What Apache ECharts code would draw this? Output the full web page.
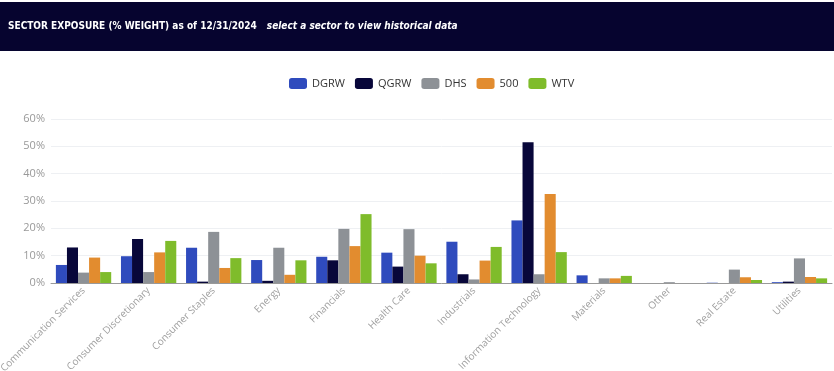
<!DOCTYPE html>
<html>
<head>
<meta charset="utf-8">
<script src="https://cdn.jsdelivr.net/npm/echarts@6/dist/echarts.min.js"></script>
<style>
  html, body { margin: 0; padding: 0; background: #fff; }
  #sectorChart { width: 834px; height: 371px; }
</style>
</head>
<body>
<div id="sectorChart"></div>
<script>
var sectors = ['Communication Services', 'Consumer Discretionary', 'Consumer Staples', 'Energy', 'Financials',
  'Health Care', 'Industrials', 'Information Technology', 'Materials', 'Other', 'Real Estate', 'Utilities'];
var fundNames = ['DGRW', 'QGRW', 'DHS', '500', 'WTV'];
var dgrw = [6.6, 9.8, 12.9, 8.4, 9.6, 11.1, 15.1, 22.9, 2.8, 0, 0.1, 0.3];
var qgrw = [13.0, 16.1, 0.5, 0.8, 8.3, 6.0, 3.2, 51.5, 0, 0, 0, 0.5];
var dhs = [3.8, 4.0, 18.7, 12.9, 19.8, 19.7, 1.3, 3.2, 1.7, 0.3, 4.9, 9.0];
var sp500 = [9.3, 11.2, 5.5, 3.0, 13.5, 10.0, 8.2, 32.6, 1.7, 0, 2.1, 2.2];
var wtv = [4.0, 15.4, 9.1, 8.3, 25.2, 7.2, 13.2, 11.3, 2.6, 0, 1.1, 1.7];
var yTicks = [0, 10, 20, 30, 40, 50, 60];

var colors = ['#2f4bbd', '#08073a', '#8d9196', '#e28c2f', '#7fbc2b'];
var seriesData = [dgrw, qgrw, dhs, sp500, wtv];
var headFont = "'DejaVu Sans Condensed', 'Liberation Sans', sans-serif";

var chart = echarts.init(document.getElementById('sectorChart'));
var option = {
    animation: false,
    color: colors,
    textStyle: { fontFamily: 'Open Sans' },
    graphic: [
        {
            type: 'rect',
            left: 0,
            top: 2,
            shape: { width: 834, height: 49 },
            style: { fill: '#06042f' },
        },
        {
            type: 'text',
            left: 8,
            top: 20,
            style: {
                text: '{a|SECTOR EXPOSURE (% WEIGHT) as of 12/31/2024}   {b|select a sector to view historical data}',
                rich: {
                    a: { fill: '#ffffff', fontSize: 10, fontWeight: 'bold', fontFamily: headFont },
                    b: { fill: '#ffffff', fontSize: 10, fontWeight: 'bold', fontStyle: 'italic', fontFamily: headFont },
                },
            },
        },
    ],
    legend: {
        top: 73,
        left: 284,
        icon: 'roundRect',
        itemWidth: 18,
        itemHeight: 11,
        itemGap: 10,
        textStyle: { color: '#333', fontSize: 11 },
        data: fundNames,
    },
    grid: {
        left: 51,
        right: 2,
        top: 119,
        bottom: 88,
        outerBoundsMode: 'none',
    },
    xAxis: {
        type: 'category',
        data: sectors,
        axisLine: { lineStyle: { color: '#999' } },
        axisTick: { lineStyle: { color: '#999' } },
        axisLabel: {
            rotate: 45,
            color: '#a0a0a0',
            fontSize: 10,
            interval: 0,
            margin: 6,
        },
    },
    yAxis: {
        type: 'value',
        min: yTicks[0],
        max: yTicks[yTicks.length - 1],
        interval: 10,
        axisLabel: {
            color: '#999',
            fontSize: 11,
            margin: 6,
            formatter: '{value}%',
        },
        splitLine: { lineStyle: { color: '#eef0f3' } },
    },
    series: fundNames.map(function (name, i) {
        return {
            name: name,
            type: 'bar',
            data: seriesData[i],
            barGap: '0%',
            barCategoryGap: '15%',
        };
    }),
};
chart.setOption(option);
</script>
</body>
</html>
